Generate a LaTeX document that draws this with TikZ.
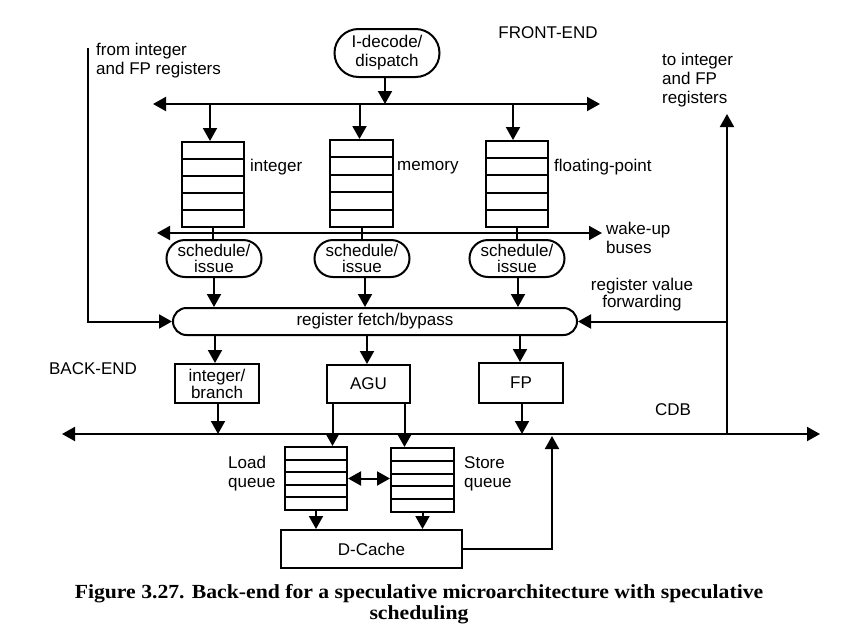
\documentclass[tikz,border=0pt]{standalone}
\usepackage{fontspec}
\setmainfont{Liberation Sans}
\newfontfamily\capfont{Liberation Serif}
\usetikzlibrary{arrows.meta,shapes.misc,calc}
\begin{document}
\begin{tikzpicture}[x=1pt,y=-1pt,
  lw/.style={line width=2pt},
  every node/.style={font=\fontsize{17}{19}\selectfont, inner sep=0pt},
  arr/.style={lw,-{Triangle[length=13pt,width=14pt]}},
  darr/.style={lw,{Triangle[length=13pt,width=14pt]}-{Triangle[length=13pt,width=14pt]}},
  stad/.style={draw,lw,rounded rectangle,align=center},
  blk/.style={draw,lw,rectangle,align=center},
  queue/.style={draw,lw,rectangle,
    path picture={\foreach \i in {1,...,4}{
      \draw[lw] ($(path picture bounding box.north west)!{\i/5}!(path picture bounding box.south west)$) --
                ($(path picture bounding box.north east)!{\i/5}!(path picture bounding box.south east)$);}}},
  lbl/.style={align=left},
  captxt/.style={anchor=base, font=\capfont\bfseries\fontsize{20}{20}\selectfont},
]
\path[use as bounding box] (0,0) rectangle (855,635);

% front-end
\node[stad, minimum width=105pt, minimum height=48pt, font=\fontsize{17}{19}\selectfont] (dec) at (387,53) {I-decode/\\dispatch};
\node (front) at (548,33) {FRONT-END};

\coordinate (tbL) at (153,104);
\coordinate (tbR) at (600,104);
\draw[darr] (tbL) -- (tbR);
\draw[arr] ([xshift=-2]dec.south) -- ([xshift=-2]dec.south |- tbL);

% issue queues
\node[queue, minimum width=62pt, minimum height=85pt] (qint) at (213,184.5) {};
\node[queue, minimum width=63pt, minimum height=87pt] (qmem) at (361.5,183.5) {};
\node[queue, minimum width=62pt, minimum height=86pt] (qfp)  at (517,184) {};
\node[anchor=west] (lint) at (250,167) {integer};
\node[anchor=west] (lmem) at (397,168) {memory};
\node[anchor=west] (lfp)  at (554,167) {floating-point};

\draw[arr] ([xshift=-3]qint.north |- tbL) -- ([xshift=-3]qint.north);
\draw[arr] ([xshift=-2]qmem.north |- tbL) -- ([xshift=-2]qmem.north);
\draw[arr] ([xshift=-4]qfp.north |- tbL) -- ([xshift=-4]qfp.north);

% wake-up buses
\coordinate (wbL) at (157,233);
\coordinate (wbR) at (602,233);
\draw[darr] (wbL) -- (wbR);
\node[lbl, anchor=west, font=\fontsize{17}{19}\selectfont] (lwake) at (606,238) {wake-up\\buses};

% schedule / issue
\node[stad, minimum width=95pt, minimum height=37pt, font=\fontsize{17}{16}\selectfont] (sint) at (214,258.5) {schedule/\\issue};
\node[stad, minimum width=95pt, minimum height=37pt, font=\fontsize{17}{16}\selectfont] (smem) at (362,258.5) {schedule/\\issue};
\node[stad, minimum width=95pt, minimum height=37pt, font=\fontsize{17}{16}\selectfont] (sfp)  at (517,258.5) {schedule/\\issue};

\draw[lw] (qint.south) -- (qint.south |- sint.north);
\draw[lw] (qmem.south) -- (qmem.south |- smem.north);
\draw[lw] (qfp.south) -- (qfp.south |- sfp.north);

% register fetch
\node[stad, minimum width=404pt, minimum height=27pt] (rf) at (375,321.5) {register fetch/bypass};
\draw[arr] (sint.south) -- (sint.south |- rf.north);
\draw[arr] ([xshift=3]smem.south) -- ([xshift=3]smem.south |- rf.north);
\draw[arr] ([xshift=1]sfp.south) -- ([xshift=1]sfp.south |- rf.north);

\coordinate (fromreg) at (88,48);
\node[lbl, anchor=west, font=\fontsize{17}{19}\selectfont] (lfrom) at (96,61) {from integer\\and FP registers};
\draw[arr] (fromreg) |- (rf.west);

\coordinate (toreg) at (727,114);
\node[lbl, anchor=west, font=\fontsize{17}{19}\selectfont] (lto) at (662,80) {to integer\\and FP\\registers};
\node[align=center, font=\fontsize{17}{17}\selectfont] (lfwd) at (642,295) {register value\\forwarding};

% back-end
\node (back) at (93,369) {BACK-END};
\node[blk, minimum width=84pt, minimum height=39pt, font=\fontsize{17}{15}\selectfont] (ib) at (217,383.5) {integer/\\branch};
\node[blk, minimum width=83pt, minimum height=38pt] (agu) at (368.5,384) {AGU};
\node[blk, minimum width=84pt, minimum height=40pt] (fpu) at (521,383) {FP};

\draw[arr] ([xshift=-2]ib.north |- rf.south) -- ([xshift=-2]ib.north);
\draw[arr] ([xshift=-1.5]agu.north |- rf.south) -- ([xshift=-1.5]agu.north);
\draw[arr] ([xshift=-1]fpu.north |- rf.south) -- ([xshift=-1]fpu.north);

% CDB
\coordinate (cdbL) at (62,434);
\coordinate (cdbR) at (820,434);
\draw[darr] (cdbL) -- (cdbR);
\node (lcdb) at (673,410) {CDB};

\draw[arr] ([xshift=1]ib.south) -- ([xshift=1]ib.south |- cdbL);
\draw[arr] ([xshift=1]fpu.south) -- ([xshift=1]fpu.south |- cdbL);

\draw[arr] (toreg |- cdbL) -- (toreg);
\draw[arr] (toreg |- rf.east) -- (rf.east);

% load / store queues
\node[queue, minimum width=62pt, minimum height=63pt] (lq) at (316,478.5) {};
\node[queue, minimum width=63pt, minimum height=64pt] (sq) at (422.5,480) {};
\node[lbl, anchor=west, font=\fontsize{17}{19}\selectfont] (llq) at (228,474) {Load\\queue};
\node[lbl, anchor=west, font=\fontsize{17}{19}\selectfont] (lsq) at (464,474) {Store\\queue};

\draw[arr] ([xshift=-36]agu.south) -- ([xshift=-36]agu.south |- lq.north);
\draw[arr] ([xshift=36]agu.south) -- ([xshift=36]agu.south |- sq.north);
\draw[darr] (lq.east) -- (lq.east -| sq.west);

% D-Cache
\node[blk, minimum width=181pt, minimum height=38pt] (dc) at (371.5,549) {D-Cache};
\draw[arr] (lq.south) -- (lq.south |- dc.north);
\draw[arr] (sq.south) -- (sq.south |- dc.north);
\coordinate (dcup) at (552,436);
\draw[arr] (dc.east) -| (dcup);

% caption
\node[captxt] (cap1) at (419,598)
  {\scalebox{1.085}[1]{Figure 3.27. Back-end for a speculative microarchitecture with speculative}};
\node[captxt] (cap2) at (419,619) {\scalebox{1.085}[1]{scheduling}};
\end{tikzpicture}
\end{document}
